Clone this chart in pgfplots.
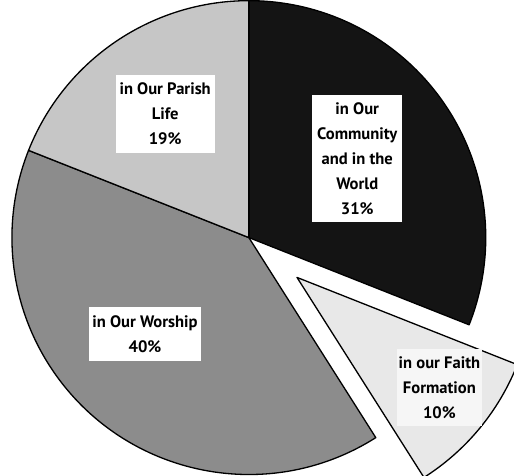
\documentclass[border=0pt]{standalone}
\usepackage{pgfplots}
\pgfplotsset{compat=1.18}
\usepackage{fontspec}
\setmainfont{PT Sans}
\definecolor{community}{HTML}{141414}
\definecolor{faith}{HTML}{E8E8E8}
\definecolor{worship}{HTML}{8C8C8C}
\definecolor{parish}{HTML}{C6C6C6}
\tikzset{
	lbl/.style={fill=white, align=center, inner sep=2bp,
		font=\bfseries\fontsize{16.5}{25}\selectfont},
}
\begin{document}
\begin{tikzpicture}
\begin{axis}[
width=514bp, height=480bp, scale only axis,
xmin=0, xmax=514, ymin=0, ymax=480,
axis lines=none, xtick=\empty, ytick=\empty,
clip=true
]
\pgfplotsextra{
	% share in percent / colour / pull-out distance (bp)
	\gdef\start{90}
	\foreach \p/\col/\ex in {31/community/0, 10/faith/62, 40/worship/0, 19/parish/0}{
		\pgfmathsetmacro\e{\start-3.6*\p}
		\pgfmathsetmacro\m{(\start+\e)/2}
		\filldraw[fill=\col, draw=black, line width=1.3bp, line join=round,
			shift={(\m:\ex bp)}]
			(axis cs:251,236) -- ++(\start:235bp)
			arc[start angle=\start, end angle=\e, radius=235bp] -- cycle;
		\global\let\start\e
	}
	\node[lbl, minimum width=98bp, minimum height=77bp] at (axis cs:168,358.5)
		{in Our Parish\\Life\\19\%};
	\node[lbl, minimum width=89bp, minimum height=126bp] at (axis cs:358.5,314)
		{in Our\\Community\\and in the\\World\\31\%};
	\node[lbl, minimum width=112bp, minimum height=53bp] at (axis cs:148,140.5)
		{in Our Worship\\40\%};
	\node[lbl, fill=white!60!faith, minimum width=85bp, minimum height=76bp] at (axis cs:440,87)
		{in our Faith\\Formation\\10\%};
}
\end{axis}
\end{tikzpicture}
\end{document}
